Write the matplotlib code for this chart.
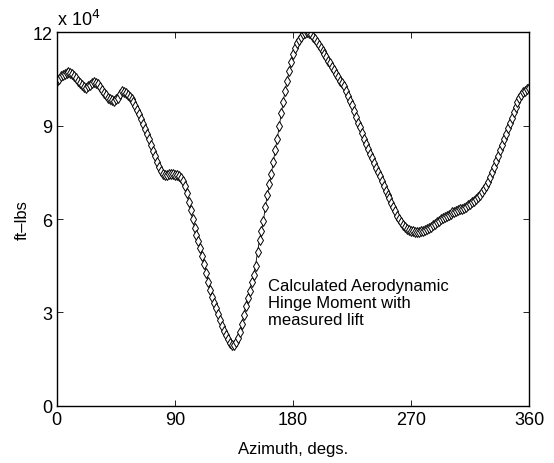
import numpy as np
import matplotlib
matplotlib.use("Agg")
import matplotlib.pyplot as plt

# azimuth sampled every 1.5 deg, hinge moment in units of 1e4 ft-lbs
azimuth = np.arange(0, 360.1, 1.5)
hinge_moment = [
    10.44, 10.51, 10.58, 10.62, 10.66, 10.69, 10.71, 10.69, 10.66, 10.59,
    10.52, 10.45, 10.38, 10.31, 10.24, 10.20, 10.26, 10.32, 10.37, 10.41,
    10.38, 10.33, 10.24, 10.15, 10.06, 9.97, 9.90, 9.85, 9.82, 9.80,
    9.85, 9.90, 10.01, 10.12, 10.09, 10.04, 9.99, 9.93, 9.85, 9.76,
    9.63, 9.50, 9.37, 9.21, 9.05, 8.89, 8.73, 8.56, 8.38, 8.20,
    8.02, 7.84, 7.66, 7.54, 7.45, 7.43, 7.42, 7.44, 7.45, 7.44,
    7.43, 7.41, 7.38, 7.31, 7.22, 7.05, 6.83, 6.56, 6.30, 6.00,
    5.72, 5.48, 5.28, 5.08, 4.80, 4.54, 4.25, 3.97, 3.72, 3.50,
    3.30, 3.14, 2.94, 2.76, 2.57, 2.40, 2.27, 2.15, 2.02, 1.96,
    1.94, 2.04, 2.19, 2.36, 2.62, 2.90, 3.20, 3.46, 3.70, 3.96,
    4.20, 4.50, 4.95, 5.33, 5.63, 5.95, 6.40, 6.78, 7.12, 7.45,
    7.84, 8.22, 8.58, 8.98, 9.40, 9.76, 10.12, 10.44, 10.75, 11.03,
    11.30, 11.48, 11.65, 11.75, 11.85, 11.93, 11.97, 12.00, 11.97, 11.93,
    11.85, 11.78, 11.70, 11.60, 11.50, 11.40, 11.30, 11.20, 11.09, 11.00,
    10.90, 10.78, 10.65, 10.55, 10.45, 10.38, 10.26, 10.10, 9.95, 9.80,
    9.65, 9.48, 9.28, 9.10, 8.95, 8.78, 8.58, 8.40, 8.25, 8.10,
    7.95, 7.80, 7.65, 7.50, 7.37, 7.23, 7.06, 6.91, 6.78, 6.66,
    6.53, 6.40, 6.25, 6.11, 5.99, 5.89, 5.80, 5.73, 5.68, 5.64,
    5.61, 5.60, 5.59, 5.58, 5.59, 5.61, 5.63, 5.66, 5.68, 5.71,
    5.75, 5.80, 5.85, 5.90, 5.95, 5.99, 6.03, 6.06, 6.10, 6.13,
    6.17, 6.21, 6.24, 6.26, 6.28, 6.31, 6.33, 6.36, 6.40, 6.44,
    6.49, 6.54, 6.59, 6.64, 6.71, 6.78, 6.86, 6.96, 7.07, 7.20,
    7.35, 7.51, 7.68, 7.86, 8.03, 8.21, 8.38, 8.56, 8.73, 8.91,
    9.08, 9.26, 9.43, 9.60, 9.75, 9.88, 9.98, 10.07, 10.12, 10.17,
    10.22,
]

x_ticks = [0, 90, 180, 270, 360]
y_ticks = [0, 3, 6, 9, 12]

plt.rcParams['font.family'] = ['Liberation Sans', 'DejaVu Sans']

fig = plt.figure(figsize=(5.54, 4.64), dpi=100)
ax = fig.add_axes([0.1023, 0.1235, 0.8531, 0.8047])

ax.plot(azimuth, hinge_moment, color='black', linewidth=0.6,
        marker='d', markersize=4.6, markerfacecolor='white',
        markeredgecolor='black', markeredgewidth=0.7)

ax.set_xlim(0, 360)
ax.set_ylim(0, 12)
ax.set_xticks(x_ticks)
ax.set_yticks(y_ticks)
ax.tick_params(direction='in', length=4, width=0.6, top=True, right=True,
               labelsize=13)
ax.tick_params(axis='x', pad=4)
ax.tick_params(axis='y', pad=3)
for s in ax.spines.values():
    s.set_linewidth(1.0)

ax.set_xlabel("Azimuth, degs.", fontsize=12, labelpad=9)
ax.set_ylabel("ft\u2013lbs", fontsize=12, labelpad=2)

# MATLAB-style exponent label
ax.text(0.0, 1.008, "x 10$^4$", transform=ax.transAxes, fontsize=13,
        ha='left', va='bottom')

ax.text(161, 4.1, "Calculated Aerodynamic\nHinge Moment with\nmeasured lift",
        fontsize=12, ha='left', va='top', linespacing=1.15)

fig.savefig("out.png", dpi=100)
